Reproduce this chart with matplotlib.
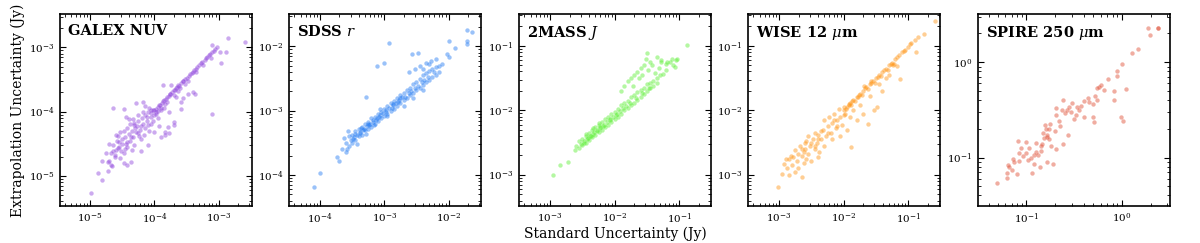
import numpy as np
import matplotlib
matplotlib.use("Agg")
import matplotlib.pyplot as plt
from matplotlib.ticker import LogLocator, NullFormatter

plt.rcParams['font.family'] = ['DejaVu Serif']
plt.rcParams['mathtext.fontset'] = 'dejavuserif'

# ------------------------------------------------------
# data, log10 of uncertainties in Jy
galex_x = [-4.05, -4.00, -3.95, -3.92, -3.88, -3.85, -3.82, -3.78, -3.75, -3.72, -3.68, -3.65, -3.62, -3.58,
           -3.55, -3.50, -3.46, -3.42, -3.38, -3.33, -3.28, -3.22, -3.15, -3.10, -3.05, -3.02, -3.08, -3.20,
           -3.97, -3.90, -3.80, -3.70, -3.60, -3.48, -3.35, -3.25, -3.12,
           -4.02, -3.98, -3.93, -3.86, -3.80, -3.76, -3.70, -3.66, -3.63, -3.56, -3.52, -3.44, -3.40, -3.36,
           -3.30, -3.26, -3.18, -3.13, -3.95, -3.84, -3.64, -3.53,
           -3.87, -3.74, -3.58, -3.48, -3.37, -3.11, -2.86, -2.59, -3.11, -2.98, -2.88, -2.97, -4.29, -4.18,
           -4.48, -4.44, -4.33, -3.84, -3.77, -3.69, -4.00, -4.05, -3.58, -3.66, -3.77, -3.40, -3.56, -3.79, -3.69,
           -4.99, -4.87, -4.81, -4.81, -4.70, -4.68, -4.61, -4.47, -4.42, -4.36, -4.57, -4.60, -4.53, -4.42,
           -4.31, -4.21, -4.21, -4.10, -4.00, -3.90, -3.84, -4.47, -4.55, -4.31, -4.21, -4.10, -4.42, -4.26,
           -4.16, -4.36, -4.50,
           -4.25, -4.20, -4.15, -4.10, -4.30, -4.35, -4.40, -4.45, -4.50, -4.55, -4.60, -4.65, -4.38, -4.28,
           -4.18, -4.12, -4.05, -4.22, -4.33, -4.48, -4.52, -4.62, -4.58, -4.42, -4.35, -4.08, -4.15, -4.02,
           -3.95, -3.90, -3.85, -4.70, -4.75, -4.66, -4.72, -4.65,
           -4.27, -4.32, -4.24, -4.14, -4.06, -4.44, -4.38, -4.56, -4.64, -4.68, -4.72, -4.54, -4.46, -4.12,
           -4.18, -3.98, -3.93, -4.40, -4.26, -4.08]
galex_y = [-4.02, -3.97, -3.93, -3.90, -3.86, -3.82, -3.80, -3.76, -3.72, -3.70, -3.66, -3.62, -3.60, -3.55,
           -3.52, -3.48, -3.44, -3.40, -3.36, -3.30, -3.25, -3.20, -3.12, -3.08, -3.03, -3.00, -3.05, -3.16,
           -4.03, -3.95, -3.85, -3.74, -3.64, -3.52, -3.39, -3.28, -3.16,
           -3.98, -3.96, -3.90, -3.83, -3.77, -3.73, -3.67, -3.63, -3.59, -3.53, -3.50, -3.41, -3.38, -3.33,
           -3.28, -3.23, -3.15, -3.10, -3.99, -3.88, -3.68, -3.57,
           -3.59, -3.59, -3.85, -3.72, -3.72, -4.03, -2.85, -2.92, -2.97, -3.08, -3.08, -3.25, -3.87, -3.85,
           -3.96, -4.08, -4.11, -4.31, -4.34, -4.21, -4.05, -3.97, -3.96, -3.77, -4.00, -3.69, -3.79, -4.24, -4.16,
           -5.26, -4.96, -5.06, -4.77, -4.77, -4.83, -4.67, -4.80, -4.83, -4.78, -4.57, -4.36, -4.31, -4.47,
           -4.52, -4.42, -4.62, -4.52, -4.31, -4.39, -4.36, -4.65, -4.47, -4.21, -4.23, -4.21, -4.26, -4.34,
           -4.36, -4.39, -4.42,
           -4.15, -4.10, -4.05, -4.00, -4.25, -4.30, -4.35, -4.40, -4.50, -4.55, -4.60, -4.62, -4.20, -4.32,
           -4.20, -4.15, -4.08, -4.28, -4.40, -4.30, -4.62, -4.70, -4.45, -4.55, -4.60, -3.95, -3.92, -4.15,
           -4.10, -3.98, -3.95, -4.50, -4.65, -4.85, -4.92, -3.95,
           -4.22, -4.18, -4.38, -4.25, -4.20, -4.50, -4.45, -4.38, -4.52, -4.65, -4.78, -4.72, -4.58, -4.08,
           -4.00, -4.00, -4.22, -4.12, -4.05, -4.30]

sdss_x = [-4.10, -4.00, -3.74, -3.71, -3.57, -3.59, -3.28, -3.12, -3.01, -2.92, -2.57, -2.48, -2.03, -2.00,
          -1.90, -2.00, -1.71, -1.71, -1.64, -1.72,
          -3.55, -3.55, -3.50, -3.50, -3.48, -3.45, -3.45, -3.43, -3.40, -3.40, -3.38, -3.35, -3.35, -3.33,
          -3.30, -3.30, -3.28, -3.25, -3.25, -3.23, -3.20, -3.20, -3.18, -3.15, -3.15, -3.13, -3.10, -3.10,
          -3.08, -3.05, -3.05, -3.00, -3.00, -2.98, -2.95, -2.95, -2.90, -2.90, -2.88, -2.85, -2.85, -2.80,
          -2.80, -2.78, -2.75, -2.75, -2.70, -2.70, -2.68, -2.65, -2.65, -2.60, -2.60, -2.58, -2.55, -2.55,
          -2.50, -2.50, -2.48, -2.45, -2.45, -2.40, -2.40, -2.38, -2.35, -2.35, -2.30, -2.30, -2.25, -2.25,
          -2.20, -2.20, -2.15, -2.15, -2.10,
          -3.52, -3.47, -3.42, -3.37, -3.32, -3.27, -3.22, -3.17, -3.12, -3.07, -3.02, -2.97, -2.92, -2.87,
          -2.82, -2.77, -2.72, -2.62, -2.52, -2.42, -2.32, -2.22, -3.46, -3.36, -3.26, -3.16, -3.06, -2.96,
          -2.86, -2.76,
          -2.62, -2.52, -2.45, -2.35, -2.40, -2.28, -2.20, -2.30, -2.70, -2.55, -2.40,
          -3.62, -3.60, -3.65, -3.58]
sdss_y = [-4.19, -3.97, -3.72, -3.78, -3.32, -3.64, -2.79, -2.31, -2.25, -1.94, -2.12, -2.10, -2.12, -2.17,
          -2.02, -1.91, -1.91, -1.75, -1.78, -1.96,
          -3.40, -3.55, -3.38, -3.50, -3.44, -3.32, -3.45, -3.52, -3.28, -3.40, -3.35, -3.25, -3.38, -3.30,
          -3.20, -3.30, -3.36, -3.18, -3.28, -3.22, -3.12, -3.25, -3.18, -3.10, -3.20, -3.14, -3.05, -3.16,
          -3.10, -3.02, -3.12, -2.97, -3.08, -3.02, -2.92, -3.05, -2.88, -3.00, -2.95, -2.85, -2.97, -2.80,
          -2.92, -2.86, -2.76, -2.88, -2.72, -2.84, -2.78, -2.68, -2.80, -2.64, -2.76, -2.70, -2.58, -2.72,
          -2.55, -2.68, -2.62, -2.50, -2.64, -2.45, -2.60, -2.52, -2.42, -2.56, -2.38, -2.52, -2.35, -2.48,
          -2.32, -2.45, -2.30, -2.40, -2.28,
          -3.46, -3.41, -3.37, -3.33, -3.28, -3.24, -3.20, -3.15, -3.12, -3.07, -3.04, -2.99, -2.96, -2.91,
          -2.88, -2.84, -2.79, -2.72, -2.64, -2.56, -2.48, -2.40, -3.36, -3.27, -3.20, -3.22, -2.98, -3.08,
          -2.90, -2.80,
          -2.40, -2.35, -2.30, -2.25, -2.35, -2.22, -2.20, -2.28, -2.92, -2.80, -2.68,
          -3.42, -3.50, -3.60, -3.60]

tmass_x = [-2.96, -2.84, -2.73, -2.62, -2.60,
           -2.55, -2.55, -2.50, -2.50, -2.48, -2.45, -2.45, -2.43, -2.40, -2.40, -2.38, -2.35, -2.35, -2.33,
           -2.30, -2.30, -2.28, -2.25, -2.25, -2.23, -2.20, -2.20, -2.18, -2.15, -2.15, -2.10, -2.10, -2.08,
           -2.05, -2.05, -2.00, -2.00, -1.98, -1.95, -1.95, -1.90, -1.90, -1.85, -1.85, -1.80, -1.80, -1.75,
           -1.75, -1.70, -1.70, -1.65, -1.65, -1.60, -1.60, -1.55, -1.55, -1.50, -1.50, -1.45, -1.45, -1.40,
           -1.40, -1.35, -1.35, -1.30, -1.25, -1.20,
           -2.52, -2.47, -2.42, -2.37, -2.32, -2.27, -2.22, -2.17, -2.12, -2.07, -2.02, -1.97, -1.92, -1.87,
           -1.82, -1.77, -1.67, -1.57, -1.47, -2.44, -2.34, -2.24,
           -1.90, -1.85, -1.80, -1.75, -1.70, -1.65, -1.60, -1.55, -1.52, -1.50, -1.62, -1.72, -1.58, -1.48,
           -1.42, -1.38, -1.32, -1.28, -1.20, -1.15, -1.10, -1.06, -1.12, -1.05, -0.88, -1.45, -1.35, -1.29,
           -1.19, -1.03]
tmass_y = [-3.00, -2.84, -2.80, -2.62, -2.55,
           -2.48, -2.58, -2.44, -2.54, -2.50, -2.40, -2.50, -2.44, -2.35, -2.46, -2.40, -2.30, -2.42, -2.36,
           -2.26, -2.38, -2.32, -2.22, -2.34, -2.28, -2.18, -2.30, -2.24, -2.14, -2.26, -2.10, -2.22, -2.15,
           -2.06, -2.18, -2.02, -2.14, -2.08, -1.98, -2.10, -1.92, -2.05, -1.88, -2.00, -1.85, -1.96, -1.80,
           -1.92, -1.76, -1.88, -1.72, -1.84, -1.68, -1.80, -1.65, -1.75, -1.60, -1.70, -1.58, -1.66, -1.54,
           -1.62, -1.50, -1.58, -1.46, -1.43, -1.38,
           -2.52, -2.47, -2.43, -2.39, -2.34, -2.30, -2.26, -2.22, -2.18, -2.13, -2.10, -2.06, -2.01, -1.97,
           -1.93, -1.89, -1.81, -1.73, -1.65, -2.36, -2.28, -2.20,
           -1.70, -1.62, -1.55, -1.50, -1.45, -1.40, -1.35, -1.30, -1.20, -1.12, -1.50, -1.62, -1.45, -1.38,
           -1.30, -1.42, -1.35, -1.25, -1.28, -1.25, -1.30, -1.33, -1.20, -1.22, -0.99, -1.25, -1.18, -1.22,
           -1.25, -1.20]

wise_x = [-3.01, -2.95, -2.92, -2.85, -2.64, -2.88, -2.82, -2.80, -2.75, -2.72, -2.70, -2.68, -2.65, -2.62,
          -2.60, -2.58, -2.55, -2.52, -2.50, -2.48, -2.45, -2.42, -2.40, -2.38, -2.35, -2.32, -2.30, -2.28,
          -2.75, -2.85, -2.90, -2.78, -2.55, -2.45, -2.62, -2.70, -2.58, -2.40,
          -2.50, -2.40, -2.35, -2.25, -2.15, -2.10, -2.00, -2.60, -2.65, -2.45,
          -2.25, -2.22, -2.20, -2.18, -2.15, -2.12, -2.10, -2.08, -2.05, -2.05, -2.02, -2.00, -1.98, -1.95,
          -1.92, -1.89, -1.90, -1.88, -1.85, -1.82, -1.80, -1.78, -1.75, -2.30, -2.18, -1.63, -1.53, -1.48,
          -1.70,
          -1.99, -1.95, -1.90, -1.85, -1.80, -1.75, -1.70, -1.65, -1.60, -1.55, -1.50, -1.45, -1.40, -1.35,
          -1.30, -1.25, -1.20, -1.15, -1.10, -1.05, -1.00, -0.95, -0.85, -0.59, -1.72, -1.62, -1.52, -1.42,
          -1.32, -1.22, -1.68, -1.58,
          -1.97, -1.92, -1.87, -1.77, -1.67, -1.57, -1.47, -1.37, -1.27, -1.17, -1.07, -0.97, -0.90,
          -1.13, -0.88, -1.24, -1.45, -1.35, -1.40, -1.60, -1.30, -1.18, -0.75]
wise_y = [-3.19, -2.98, -2.83, -2.75, -3.04, -2.90, -2.70, -2.85, -2.62, -2.78, -2.90, -2.55, -2.70, -2.82,
          -2.60, -2.48, -2.68, -2.55, -2.78, -2.45, -2.60, -2.50, -2.38, -2.65, -2.45, -2.30, -2.55, -2.40,
          -2.95, -3.00, -2.75, -2.72, -2.40, -2.35, -2.65, -2.68, -2.75, -2.72,
          -2.50, -2.45, -2.32, -2.35, -2.15, -2.25, -2.08, -2.50, -2.60, -2.55,
          -2.25, -2.10, -2.35, -2.20, -2.05, -2.28, -2.15, -1.98, -2.40, -2.10, -2.22, -1.95, -2.05, -2.30,
          -1.90, -2.57, -2.10, -1.92, -2.00, -1.85, -2.15, -1.80, -1.92, -2.15, -2.45, -2.21, -2.00, -1.95,
          -2.05,
          -2.00, -1.95, -1.88, -1.84, -1.79, -1.74, -1.70, -1.64, -1.60, -1.55, -1.50, -1.46, -1.40, -1.36,
          -1.30, -1.26, -1.20, -1.15, -1.10, -1.06, -1.02, -0.95, -0.86, -0.61, -1.76, -1.67, -1.57, -1.47,
          -1.38, -1.28, -1.62, -1.54,
          -1.98, -1.92, -1.86, -1.76, -1.66, -1.57, -1.48, -1.37, -1.28, -1.18, -1.08, -0.98, -0.91,
          -1.51, -1.09, -1.30, -1.60, -1.50, -1.70, -1.78, -1.45, -1.32, -0.82]

spire_x = [-1.31, -1.20, -1.19, -1.20, -1.15, -1.10, -1.13, -1.08, -1.08, -1.06, -1.09, -1.01, -0.98, -0.95,
           -0.92, -0.92, -0.85, -0.85, -0.82, -0.83, -0.79, -0.76, -0.74, -0.78, -0.72, -0.69, -0.86, -0.94,
           -0.81, -0.76, -0.70, -0.65, -0.69, -0.60, -0.63, -0.55, -0.52, -0.50, -0.56, -0.62, -1.04, -1.14,
           -1.18, -0.88, -0.97, -0.48, -0.43, -0.40, -0.30, -0.28, -0.40, -0.69, -0.62, -0.30, -0.29, -0.26,
           -0.19, -0.08, -0.01, 0.01, -0.22, 0.04, -0.08, -0.15, -0.05, -0.05, 0.00, 0.11, 0.17, 0.30, 0.27,
           0.38, -0.90, -0.80, -0.66, -0.58, -0.45, -0.36, -1.00, -0.75, -0.26, -0.34,
           -0.90, -0.84, -0.78, -0.53, -0.47, -0.24, 0.38]
spire_y = [-1.27, -1.16, -1.08, -1.22, -1.13, -1.17, -1.05, -1.04, -0.95, -0.90, -0.83, -0.84, -1.03, -1.01,
           -1.07, -0.97, -0.93, -0.88, -0.80, -0.74, -0.78, -0.81, -0.88, -1.05, -1.07, -0.91, -1.10, -1.16,
           -0.66, -0.70, -0.72, -0.67, -0.55, -0.53, -0.50, -0.47, -0.43, -0.60, -0.76, -0.86, -0.98, -1.02,
           -1.10, -0.97, -0.90, -0.55, -0.46, -0.41, -0.44, -0.36, -0.57, -0.48, -0.40, -0.58, -0.63, -0.40,
           -0.29, -0.30, -0.57, -0.62, -0.24, -0.28, -0.40, -0.18, -0.15, -0.09, -0.02, 0.10, 0.14, 0.29, 0.36,
           0.36, -0.85, -0.70, -0.62, -0.50, -0.50, -0.38, -0.95, -0.65, -0.27, -0.42,
           -0.94, -0.86, -0.76, -0.52, -0.47, -0.26, 0.36]

names = ["GALEX NUV", "SDSS $r$", "2MASS $J$", "WISE 12 $\\mu$m", "SPIRE 250 $\\mu$m"]
colors = ["#8e44dc", "#1f78f2", "#5aef32", "#ff9412", "#de4a30"]
xs = [galex_x, sdss_x, tmass_x, wise_x, spire_x]
ys = [galex_y, sdss_y, tmass_y, wise_y, spire_y]
limits = [(3.4e-6, 3.3e-3), (3.3e-5, 3.2e-2), (3.3e-4, 0.31), (3.3e-4, 0.31), (0.031, 3.2)]
# ------------------------------------------------------

fig = plt.figure(figsize=(12, 2.43), dpi=100)
lefts = [60, 289, 519, 748, 978]
axes = []
for i in range(5):
    ax = fig.add_axes([lefts[i] / 1200, 37 / 243, 192 / 1200, 192 / 243])
    x = 10 ** np.array(xs[i])
    y = 10 ** np.array(ys[i])
    ax.scatter(x, y, s=10, color=colors[i], alpha=0.45, linewidths=0)
    ax.set_xscale('log')
    ax.set_yscale('log')
    ax.set_xlim(limits[i])
    ax.set_ylim(limits[i])
    ax.tick_params(which='both', direction='in', top=True, right=True, labelsize=7.5)
    ax.tick_params(which='major', length=4.5, width=0.8, pad=4)
    ax.tick_params(which='minor', length=2.2, width=0.6)
    ax.xaxis.set_minor_locator(LogLocator(subs=np.arange(2, 10)))
    ax.yaxis.set_minor_locator(LogLocator(subs=np.arange(2, 10)))
    ax.xaxis.set_minor_formatter(NullFormatter())
    ax.yaxis.set_minor_formatter(NullFormatter())
    for sp in ax.spines.values():
        sp.set_linewidth(1.2)
    ax.text(0.04, 0.95, names[i], transform=ax.transAxes, ha='left', va='top',
            fontsize=10.5, fontweight='bold')
    axes.append(ax)

axes[0].set_ylabel("Extrapolation Uncertainty (Jy)", fontsize=10, labelpad=3)
fig.text((519 + 96) / 1200, 0.008, "Standard Uncertainty (Jy)", ha='center', va='bottom', fontsize=10)

fig.savefig("out.png", dpi=100)
